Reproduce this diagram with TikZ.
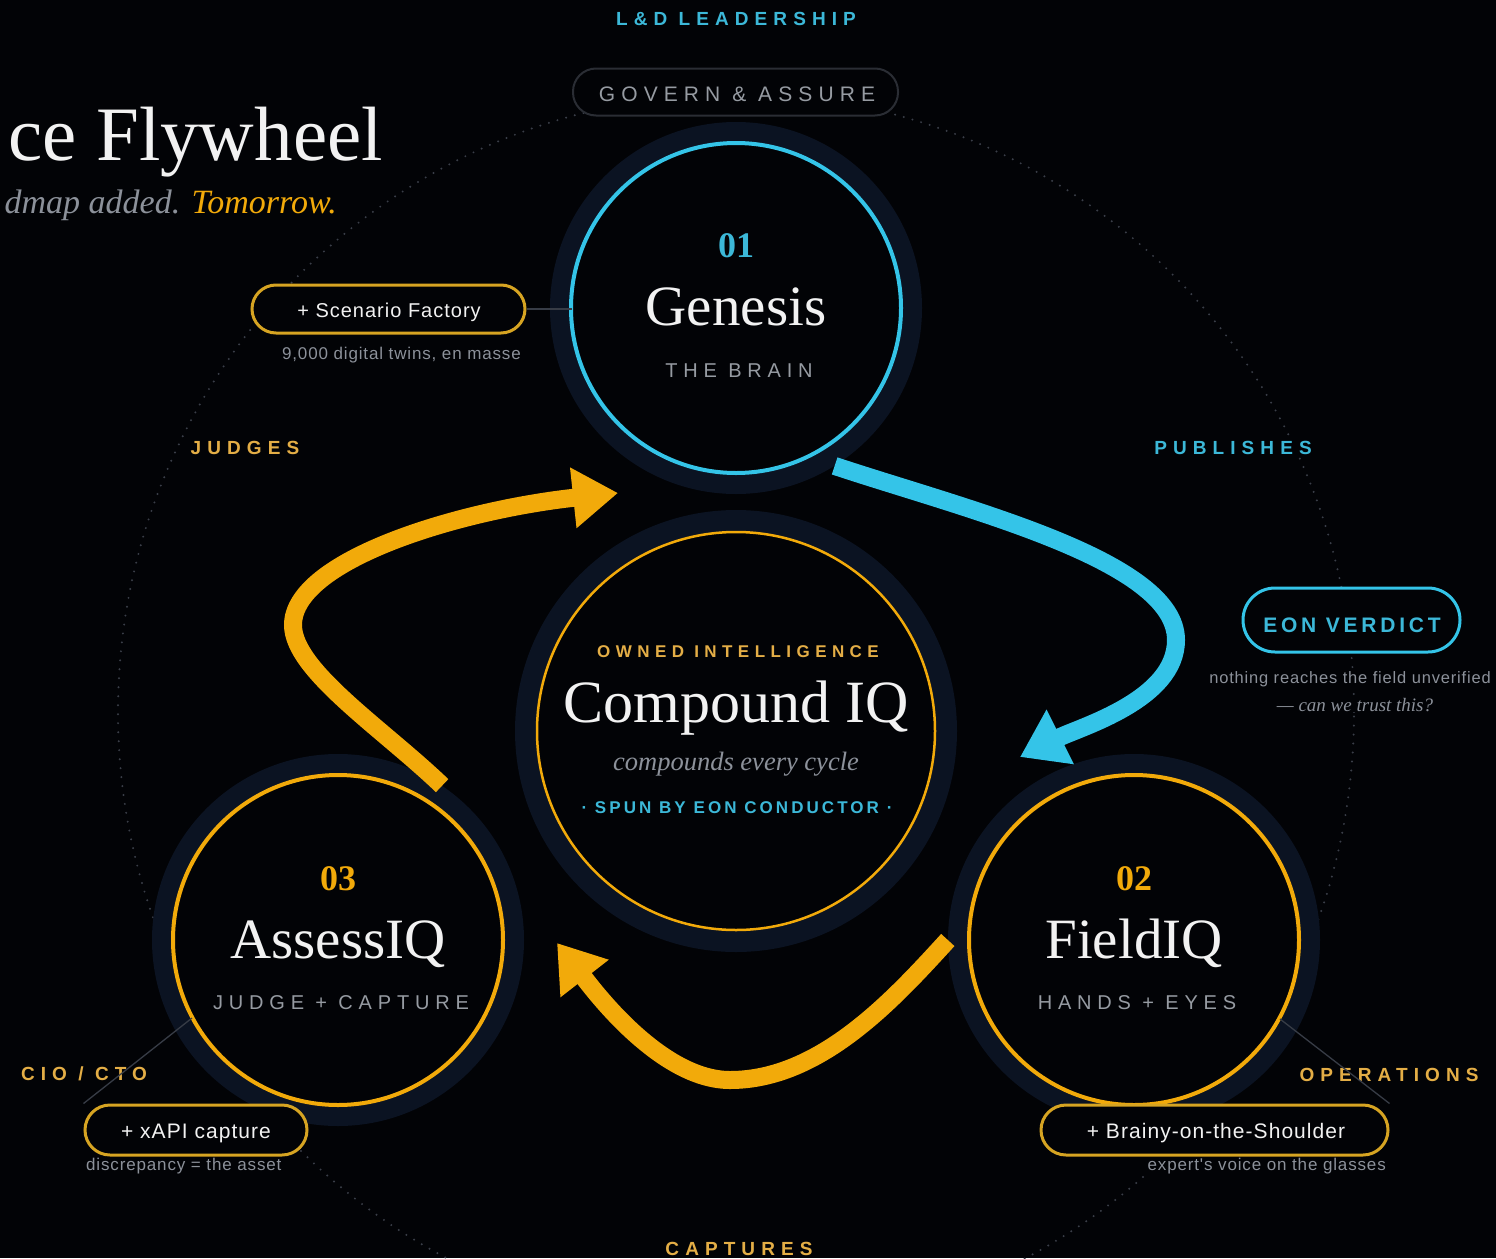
\documentclass[tikz,border=0pt]{standalone}
\usepackage{fontspec}
\setmainfont{Liberation Serif}
\newfontfamily\labsans[LetterSpace=32]{Liberation Sans}
\newfontfamily\midsans[LetterSpace=18]{Liberation Sans}
\newfontfamily\ringsans[LetterSpace=29]{Liberation Sans}
\newfontfamily\txtsans[LetterSpace=5]{Liberation Sans}
\usetikzlibrary{arrows.meta}

\definecolor{bg}{RGB}{2,3,6}
\definecolor{navy}{RGB}{11,19,34}
\definecolor{gold}{RGB}{242,170,10}
\definecolor{pillgold}{RGB}{214,164,34}
\definecolor{goldtxt}{RGB}{228,174,70}
\definecolor{cyanc}{RGB}{52,196,232}
\definecolor{cyantxt}{RGB}{60,184,216}
\definecolor{greytxt}{RGB}{140,145,154}
\definecolor{ringtxt}{RGB}{150,155,162}
\definecolor{whitetxt}{RGB}{242,242,242}
\definecolor{dotc}{RGB}{58,62,72}
\definecolor{leadc}{RGB}{55,60,70}
\definecolor{pillgrey}{RGB}{42,45,52}

\tikzset{
  ringnode/.style={circle, fill=navy, minimum size=372pt, inner sep=0pt},
  bigringnode/.style={circle, fill=navy, minimum size=442pt, inner sep=0pt},
  lbl/.style={inner sep=0pt, anchor=base},
  outerlbl/.style={inner sep=3pt, anchor=base, fill=bg},
  pill/.style={draw, fill=bg, inner sep=0pt, line width=3pt},
  flow/.style={line width=18pt, -{Triangle[length=45pt,width=58pt]}},
  leader/.style={draw=leadc, line width=1.3pt},
  capsb/.style={font=\labsans\bfseries\fontsize{19}{22}\selectfont},
  ringcaps/.style={font=\ringsans\fontsize{20}{24}\selectfont, text=ringtxt},
  bigname/.style={font=\fontsize{57}{62}\selectfont, text=whitetxt},
  num/.style={font=\bfseries\fontsize{36}{40}\selectfont},
  pilltxt/.style={font=\txtsans\fontsize{21}{24}\selectfont, text=whitetxt},
  subtxt/.style={font=\txtsans\fontsize{17}{20}\selectfont, text=greytxt}
}

\begin{document}
\begin{tikzpicture}[x=1pt,y=-1pt]
\useasboundingbox (0,0) rectangle (1496,1258);
\fill[bg] (0,0) rectangle (1496,1258);

% dotted orbit
\draw[dotc, line width=2.2pt, line cap=round, dash pattern=on 0pt off 9pt] (736,712) circle (618pt);

% title
\node[lbl, anchor=base east, text=whitetxt, font=\fontsize{77}{80}\selectfont] (title) at (383,160) {ce Flywheel};
\node[lbl, anchor=base east, font=\itshape\fontsize{34}{37}\selectfont] (subtitle) at (337,213) {\color{greytxt}dmap added. \color{gold}Tomorrow.};

% top labels
\node[outerlbl, capsb, text=cyantxt] (ld) at (736,25) {L\&D LEADERSHIP};
\node[pill, draw=pillgrey, line width=2pt, minimum width=325pt, minimum height=47pt, rounded corners=23pt] (gov) at (735.5,92) {};
\node[lbl, font=\ringsans\fontsize{21}{24}\selectfont, text=ringtxt] (govt) at (737,101) {GOVERN \& ASSURE};

% rings
\node[ringnode] (gen) at (736,308) {};
\node[ringnode] (ass) at (338,940) {};
\node[ringnode] (fld) at (1134,940) {};
\node[bigringnode] (cmp) at (736,731) {};
\draw[cyanc, line width=4pt, fill=bg] (gen.center) circle (165pt);
\draw[gold, line width=4pt, fill=bg] (ass.center) circle (165pt);
\draw[gold, line width=4pt, fill=bg] (fld.center) circle (165pt);
\draw[gold, line width=2.5pt, fill=bg] (cmp.center) circle (199pt);

% Genesis
\node[lbl, num, text=cyantxt] (gennum) at (736,257) {01};
\node[lbl, bigname] (genname) at (736,325) {Genesis};
\node[lbl, ringcaps] (gensub) at (739,377) {THE BRAIN};

% AssessIQ
\node[lbl, num, text=gold] (assnum) at (338,890) {03};
\node[lbl, bigname] (assname) at (338,958) {AssessIQ};
\node[lbl, ringcaps] (asssub) at (341,1009) {JUDGE + CAPTURE};

% FieldIQ
\node[lbl, num, text=gold] (fldnum) at (1134,890) {02};
\node[lbl, bigname] (fldname) at (1134,958) {FieldIQ};
\node[lbl, ringcaps] (fldsub) at (1137,1009) {HANDS + EYES};

% Compound IQ
\node[lbl, font=\labsans\bfseries\fontsize{17}{20}\selectfont, text=goldtxt] (own) at (738,657) {OWNED INTELLIGENCE};
\node[lbl, font=\fontsize{60}{64}\selectfont, text=whitetxt] (cmpname) at (736,722) {Compound IQ};
\node[lbl, font=\itshape\fontsize{26.5}{30}\selectfont, text=greytxt] (cmpsub) at (736,770) {compounds every cycle};
\node[lbl, font=\midsans\bfseries\fontsize{17}{20}\selectfont, text=cyantxt] (spun) at (737,813) {· SPUN BY EON CONDUCTOR ·};

% side labels
\node[outerlbl, capsb, text=goldtxt] (judges) at (245,454) {JUDGES};
\node[outerlbl, capsb, text=cyantxt] (pub) at (1233,454) {PUBLISHES};
\node[outerlbl, capsb, text=goldtxt] (cio) at (84,1080) {CIO / CTO};
\node[outerlbl, capsb, text=goldtxt] (ops) at (1389,1081) {OPERATIONS};
\node[outerlbl, capsb, text=goldtxt] (cap) at (739,1255) {CAPTURES};

% Scenario Factory
\coordinate (genLead) at (572,309);
\node[pill, draw=pillgold, minimum width=273pt, minimum height=48pt, rounded corners=24pt] (scen) at (388.5,309) {};
\draw[leader] (scen.east) -- (genLead);
\node[lbl, pilltxt, font=\txtsans\fontsize{20}{24}\selectfont] (scent) at (389,317) {+ Scenario Factory};
\node[outerlbl, inner sep=1pt, subtxt, anchor=base east] (scens) at (522,359) {9,000 digital twins, en masse};

% EON Verdict
\node[pill, draw=cyanc, minimum width=217pt, minimum height=64pt, rounded corners=32pt] (eon) at (1351.5,620) {};
\node[lbl, font=\midsans\bfseries\fontsize{21}{24}\selectfont, text=cyantxt] (eont) at (1352,632) {EON VERDICT};
\node[outerlbl, inner sep=1pt, font=\txtsans\fontsize{16.5}{20}\selectfont, text=greytxt] (eons) at (1350,683) {nothing reaches the field unverified};
\node[outerlbl, inner sep=1pt, font=\itshape\fontsize{19}{22}\selectfont, text=greytxt] (eonq) at (1355,711) {— can we trust this?};

% xAPI capture
\coordinate (assLead) at (192,1018);
\node[pill, draw=pillgold, minimum width=222pt, minimum height=50pt, rounded corners=25pt] (xapi) at (196,1130) {};
\draw[leader] (xapi.north west) -- (assLead);
\node[lbl, pilltxt] (xapit) at (196,1138) {+ xAPI capture};
\node[outerlbl, inner sep=1pt, subtxt, anchor=base west] (xapis) at (85,1170) {discrepancy = the asset};

% Brainy-on-the-Shoulder
\coordinate (fldLead) at (1280,1019);
\node[pill, draw=pillgold, minimum width=347pt, minimum height=50pt, rounded corners=25pt] (brainy) at (1214.5,1130) {};
\draw[leader] (brainy.north east) -- (fldLead);
\node[lbl, pilltxt] (brainyt) at (1216,1138) {+ Brainy-on-the-Shoulder};
\node[outerlbl, inner sep=1pt, subtxt, anchor=base east] (brainys) at (1387,1170) {expert's voice on the glasses};

% flow arrows
\coordinate (cyanTip) at (1020,757);
\coordinate (topTip) at (618,493);
\coordinate (botTip) at (557,943);
\draw[flow, cyanc] (gen.-58) .. controls (964,509) and (1176,560) .. (1176,640)
   .. controls (1176,700) and (1080,727) .. (cyanTip);
\draw[flow, gold] (ass.56) .. controls (382,728) and (293,670) .. (293,625)
   .. controls (293,560) and (460,510) .. (topTip);
\draw[flow, gold] (fld.180) .. controls (893,1000) and (820,1080) .. (730,1080)
   .. controls (660,1080) and (592,988) .. (botTip);
\end{tikzpicture}
\end{document}
